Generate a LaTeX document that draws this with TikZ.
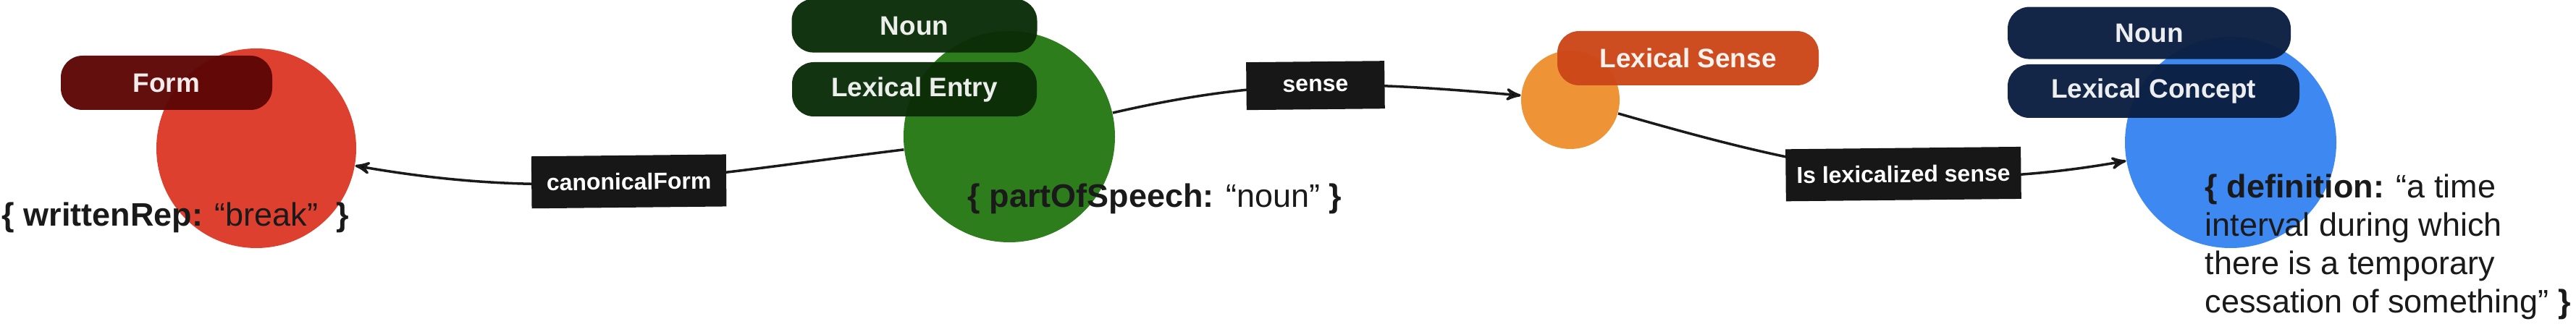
\documentclass[tikz,border=0pt]{standalone}
\usepackage{fontspec}
\setmainfont{Liberation Sans}
\usepackage{tikz}
\usetikzlibrary{arrows,positioning}
\definecolor{formrod}{RGB}{222,64,48}
\definecolor{formmork}{RGB}{94,7,5}
\definecolor{entrygronn}{RGB}{46,125,28}
\definecolor{entrymork}{RGB}{11,45,8}
\definecolor{senseoransje}{RGB}{238,148,54}
\definecolor{senserod}{RGB}{204,71,25}
\definecolor{conceptbla}{RGB}{62,136,242}
\definecolor{conceptmork}{RGB}{12,31,66}
\definecolor{relsvart}{RGB}{23,23,23}
\definecolor{tekst}{RGB}{26,26,26}
\tikzset{
    %Define standard arrow tip
    >=stealth',
    %Define style for the class circles
    sirkel/.style={
           circle,
           draw=none,
           inner sep=0pt},
    %Define style for the type boxes
    typeboks/.style={
           rectangle,
           rounded corners=0.3cm,
           fill=#1, fill opacity=0.97, text opacity=0.92,
           text=white,
           font=\fontsize{10.5}{12.5}\selectfont\bfseries,
           minimum height=0.75cm,
           text centered},
    %Define style for the relation labels
    relboks/.style={
           rectangle,
           fill=relsvart,
           text=white,
           font=\fontsize{9.1}{11}\selectfont\bfseries,
           minimum height=0.72cm,
           rotate=0.6},
    %Define style for attribute text
    attrtekst/.style={
           text=tekst,
           inner sep=0pt,
           font=\fontsize{12.8}{15.1}\selectfont},
    % Define arrow style
    kant/.style={
           ->,
           draw=tekst,
           line width=1pt}
}
\begin{document}
\begin{tikzpicture}
 \useasboundingbox (0,0) rectangle (35.58,-4.48);

 %circles
\node[sirkel, fill=formrod, minimum size=2.76cm] (form) at (3.54,-2.05) {};
\node[sirkel, fill=entrygronn, minimum size=2.92cm] (entry) at (13.94,-1.89) {};
\node[sirkel, fill=senseoransje, minimum size=1.36cm] (sense) at (21.69,-1.38) {};
\node[sirkel, fill=conceptbla, minimum size=2.92cm] (concept) at (30.81,-1.97) {};

 %type boxes
\node[typeboks=formmork, minimum width=2.92cm] (formtype) at (2.30,-1.145) {Form};
\node[typeboks=entrymork, minimum width=3.38cm] (entrytype) at (12.63,-1.235) {Lexical Entry};
\node[typeboks=entrymork, minimum width=3.39cm, minimum height=0.74cm, above=0.12cm of entrytype] (entrypos) {Noun};
\node[typeboks=senserod, minimum width=3.61cm] (sensetype) at (23.315,-0.805) {Lexical Sense};
\node[typeboks=conceptmork, minimum width=4.03cm, minimum height=0.74cm] (concepttype) at (29.745,-1.26) {Lexical Concept};
\node[typeboks=conceptmork, minimum width=3.91cm, minimum height=0.72cm, above=0.06cm of concepttype, xshift=-0.06cm] (conceptpos) {Noun};

 %relations
\path[kant]
    (entry) edge[out=187, in=-10] node[relboks, minimum width=2.69cm] {canonicalForm} (form)
    (entry) edge[out=13, in=175] node[relboks, minimum width=1.91cm, minimum height=0.66cm] {sense} (sense)
    (sense) edge[out=-16, in=190] node[relboks, minimum width=3.25cm, pos=0.57] {Is lexicalized sense} (concept);

 %attributes
\node[attrtekst, anchor=base west] (formattr) at (0.02,-3.13) {\textbf{\{ writtenRep:} “break”\ \ \textbf{\}}};
\node[attrtekst, anchor=base west] (entryattr) at (13.36,-2.87) {\textbf{\{ partOfSpeech:} “noun” \textbf{\}}};
\node[attrtekst, anchor=north west, align=left] (conceptattr) at (30.45,-2.40) {\textbf{\{ definition:} “a time\\interval during which\\there is a temporary\\cessation of something” \textbf{\}}};

\end{tikzpicture}
\end{document}
